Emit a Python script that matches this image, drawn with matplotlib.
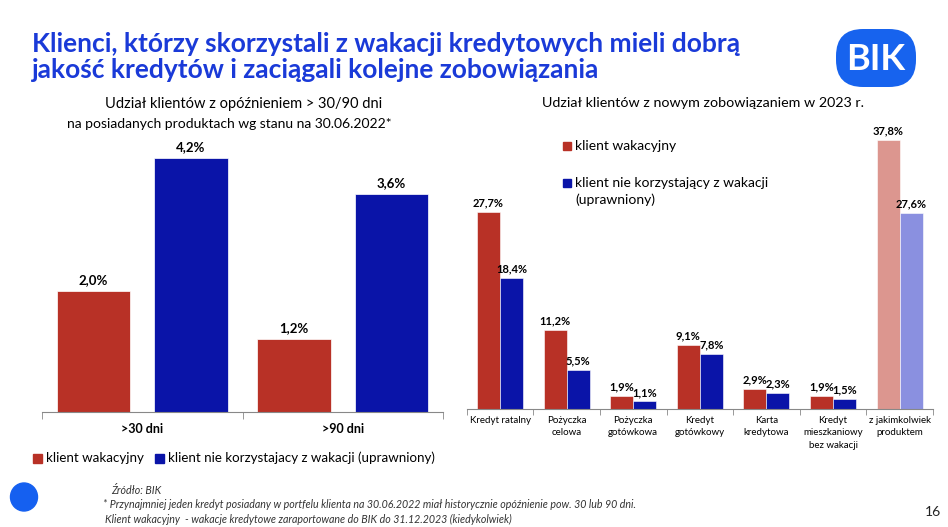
import matplotlib
matplotlib.use('Agg')
import matplotlib.pyplot as plt
import numpy as np
from matplotlib import font_manager
from matplotlib.patches import FancyBboxPatch, Ellipse

# data
left_groups = ['>30 dni', '>90 dni']
left_wak = [2.0, 1.2]
left_nie = [4.2, 3.6]

right_cats = ['Kredyt ratalny', 'Pożyczka\ncelowa', 'Pożyczka\ngotówkowa', 'Kredyt\ngotówkowy',
              'Karta\nkredytowa', 'Kredyt\nmieszkaniowy\nbez wakacji', 'z jakimkolwiek\nproduktem']
right_wak = [27.7, 11.2, 1.9, 9.1, 2.9, 1.9, 37.8]
right_nie = [18.4, 5.5, 1.1, 7.8, 2.3, 1.5, 27.6]

RED = '#b83126'
BLUE = '#0a14a8'
RED_L = '#dc968f'
BLUE_L = '#8a90e0'
TITLE_C = '#1a3ad8'

names = {f.name for f in font_manager.fontManager.ttflist}
body = 'Lato' if 'Lato' in names else 'DejaVu Sans'
narrow = 'Liberation Sans Narrow' if 'Liberation Sans Narrow' in names else body
plt.rcParams['font.family'] = [body, 'DejaVu Sans']

W, H = 948, 527
fig = plt.figure(figsize=(W / 100, H / 100), dpi=100)

def fx(px):
    return px / W

def fy(py):
    return 1 - py / H

def pct(v):
    return f'{v:.1f}%'.replace('.', ',')

# overlay for decorations in pixel coordinates
ov = fig.add_axes([0, 0, 1, 1])
ov.set_xlim(0, W)
ov.set_ylim(H, 0)
ov.axis('off')

ov.text(32, 44, 'Klienci, którzy skorzystali z wakacji kredytowych mieli dobrą', fontsize=19,
        fontweight='bold', color=TITLE_C, va='center', ha='left', family=[narrow, 'DejaVu Sans'])
ov.text(32, 70, 'jakość kredytów i zaciągali kolejne zobowiązania', fontsize=19,
        fontweight='bold', color=TITLE_C, va='center', ha='left', family=[narrow, 'DejaVu Sans'])

logo = FancyBboxPatch((842, 35), 68, 46, boxstyle='round,pad=6,rounding_size=27',
                      facecolor='#1763ee', edgecolor='none')
ov.add_patch(logo)
ov.text(876, 59, 'BIK', color='white', fontsize=26, fontweight='bold', ha='center', va='center')

ov.text(244, 104, 'Udział klientów z opóźnieniem > 30/90 dni', fontsize=10.5, ha='center', va='center')
ov.text(229, 124, 'na posiadanych produktach wg stanu na 30.06.2022*', fontsize=10, ha='center', va='center')
ov.text(703, 103, 'Udział klientów z nowym zobowiązaniem w 2023 r.', fontsize=10.3, ha='center', va='center')

# left legend
ov.add_patch(plt.Rectangle((33, 454), 9, 9, color=RED))
ov.text(46, 458, 'klient wakacyjny', fontsize=9.6, va='center')
ov.add_patch(plt.Rectangle((155, 454), 9, 9, color=BLUE))
ov.text(168, 458, 'klient nie korzystajacy z wakacji (uprawniony)', fontsize=9.6, va='center')

# right legend
ov.add_patch(plt.Rectangle((563, 142), 8, 8, color=RED))
ov.text(575, 146, 'klient wakacyjny', fontsize=10, va='center')
ov.add_patch(plt.Rectangle((563, 179), 8, 8, color=BLUE))
ov.text(575, 183, 'klient nie korzystający z wakacji', fontsize=10, va='center')
ov.text(575, 200, '(uprawniony)', fontsize=10, va='center')

# footer
ov.add_patch(Ellipse((24, 497), 27, 28, color='#1560f0'))
foot_c = '#333333'
ov.text(111, 491, 'Źródło: BIK', fontsize=7.7, style='italic', color=foot_c, va='center')
ov.text(103, 505, '* Przynajmniej jeden kredyt posiadany w portfelu klienta na 30.06.2022 miał historycznie opóźnienie pow. 30 lub 90 dni.',
        fontsize=7.7, style='italic', color=foot_c, va='center')
ov.text(105, 519, 'Klient wakacyjny  - wakacje kredytowe zaraportowane do BIK do 31.12.2023 (kiedykolwiek)',
        fontsize=7.7, style='italic', color=foot_c, va='center')
ov.text(941, 512, '16', fontsize=10, ha='right', va='center', color='#222222')

# left chart
axl = fig.add_axes([fx(42), fy(412), fx(443) - fx(42), (412 - 140) / H])
xl = np.arange(len(left_groups))
bw = 0.365
off = 0.243
axl.bar(xl - off, left_wak, bw, color=RED, edgecolor='white', linewidth=0.5)
axl.bar(xl + off, left_nie, bw, color=BLUE, edgecolor='white', linewidth=0.5)
for x, v in zip(xl - off, left_wak):
    axl.text(x, v + 0.08, pct(v), ha='center', va='bottom', fontsize=9.5, fontweight='bold')
for x, v in zip(xl + off, left_nie):
    axl.text(x, v + 0.08, pct(v), ha='center', va='bottom', fontsize=9.5, fontweight='bold')
axl.set_xlim(-0.5, len(left_groups) - 0.5)
axl.set_ylim(0, 272 / 60.5)
axl.set_yticks([])
axl.set_xticks(xl)
axl.set_xticklabels(left_groups, fontsize=9, fontweight='bold')
axl.set_xticks(np.arange(-0.5, len(left_groups)), minor=True)
axl.tick_params(axis='x', which='major', length=0, pad=8)
axl.tick_params(axis='x', which='minor', length=5, color='#888888')
for s in ['top', 'left', 'right']:
    axl.spines[s].set_visible(False)
axl.spines['bottom'].set_color('#888888')
axl.patch.set_alpha(0)

# right chart
axr = fig.add_axes([fx(466.7), fy(409.3), fx(933) - fx(466.7), (409.3 - 130) / H])
xr = np.arange(len(right_cats))
rw = 0.345
wak_cols = [RED] * (len(right_cats) - 1) + [RED_L]
nie_cols = [BLUE] * (len(right_cats) - 1) + [BLUE_L]
axr.bar(xr - rw / 2, right_wak, rw, color=wak_cols, edgecolor='white', linewidth=0.4)
axr.bar(xr + rw / 2, right_nie, rw, color=nie_cols, edgecolor='white', linewidth=0.4)
for x, v in zip(xr - rw / 2, right_wak):
    axr.text(x, v + 0.5, pct(v), ha='center', va='bottom', fontsize=8, fontweight='bold')
for x, v in zip(xr + rw / 2, right_nie):
    axr.text(x, v + 0.5, pct(v), ha='center', va='bottom', fontsize=8, fontweight='bold')
axr.set_xlim(-0.5, len(right_cats) - 0.5)
axr.set_ylim(0, 279.3 / 7.12)
axr.set_yticks([])
axr.set_xticks(xr)
axr.set_xticklabels(right_cats, fontsize=7, linespacing=1.45)
axr.set_xticks(np.arange(-0.5, len(right_cats)), minor=True)
axr.tick_params(axis='x', which='major', length=0, pad=5)
axr.tick_params(axis='x', which='minor', length=4, color='#888888')
for s in ['top', 'left', 'right']:
    axr.spines[s].set_visible(False)
axr.spines['bottom'].set_color('#888888')
axr.patch.set_alpha(0)

fig.savefig('out.png', dpi=100)
